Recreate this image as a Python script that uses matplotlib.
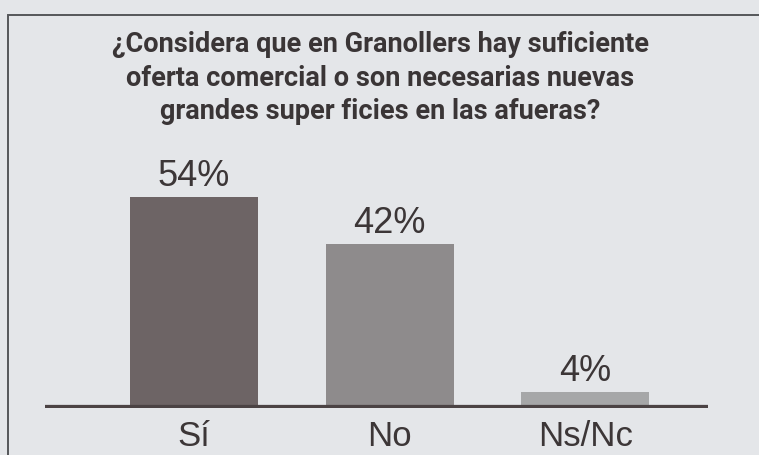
import matplotlib.pyplot as plt
from matplotlib.patches import Rectangle

# encuesta: oferta comercial en Granollers
categorias = ['Sí', 'No', 'Ns/Nc']
porcentajes = [54, 42, 4]
etiquetas = ['54%', '42%', '4%']
colores = ['#6d6465', '#8e8b8c', '#a6a7a8']

titulo = ('¿Considera que en Granollers hay suficiente\n'
          'oferta comercial o son necesarias nuevas\n'
          'grandes super ficies en las afueras?')

fondo = '#e4e6e9'
W, H = 759, 456

fig = plt.figure(figsize=(W / 100, H / 100), dpi=100, facecolor=fondo)

# marco del gráfico (sale por la derecha y por abajo)
fig.patches.append(Rectangle((8 / W, -0.05), 1.1, (H - 16) / H + 0.05,
                             transform=fig.transFigure, fill=False,
                             edgecolor='#55575a', linewidth=1.4))

fig.text(380 / W, 1 - 78 / H, titulo, ha='center', va='center',
         fontsize=19.5, fontweight='bold', color='#3a3536', linespacing=1.3,
         family=['Roboto', 'DejaVu Sans'])

# eje: base en y=409 px, de x=45 a x=708 px
ax = fig.add_axes([45 / W, (H - 409) / H, 663 / W, 260 / H])
ax.set_facecolor('none')
x = list(range(len(categorias)))
ax.bar(x, porcentajes, width=0.655, color=colores, zorder=2)
ax.axhline(0, color='#4b4344', linewidth=4.5, zorder=3)
ax.set_xlim(-0.762, 2.628)
ax.set_ylim(0, 260 / 3.9)

for xi, v, t in zip(x, porcentajes, etiquetas):
    ax.annotate(t, (xi, v), xytext=(0, 3), textcoords='offset points',
                ha='center', va='bottom', fontsize=26, color='#3c3637',
                family=['Liberation Sans', 'DejaVu Sans'])

ax.set_xticks(x)
ax.set_xticklabels(categorias, fontsize=25, color='#3c3637',
                   family=['Liberation Sans', 'DejaVu Sans'])
ax.tick_params(axis='x', length=0, pad=8)
ax.set_yticks([])
for s in ax.spines.values():
    s.set_visible(False)

fig.savefig('out.png', dpi=100, facecolor=fondo)
